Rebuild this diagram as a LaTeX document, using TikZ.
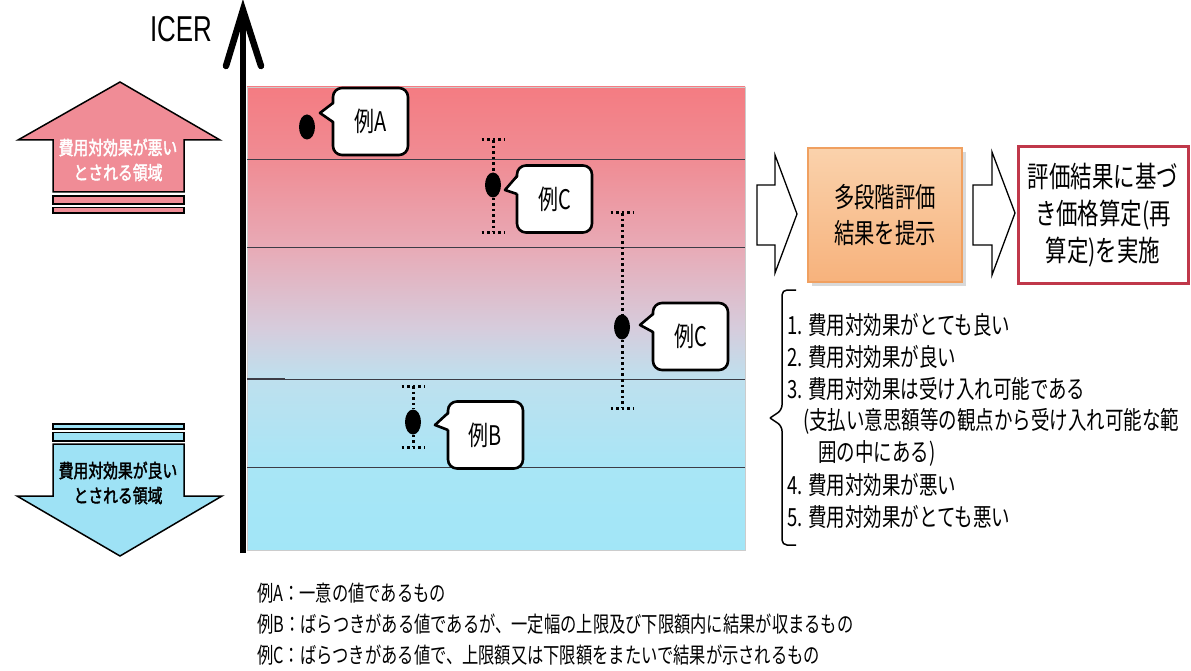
\documentclass[tikz,border=0pt]{standalone}
\usepackage{fontspec}
\newfontfamily\jp[FakeStretch=0.74]{Noto Sans CJK JP}
\newfontfamily\jpb[FakeStretch=0.78,FakeBold=2]{Noto Sans CJK JP}
\newfontfamily\latin[FakeStretch=0.72]{Liberation Sans}
\usetikzlibrary{shapes.geometric}
\definecolor{uppink}{RGB}{240,140,150}
\definecolor{downcyan}{RGB}{158,226,245}
\definecolor{orfill1}{RGB}{250,210,172}
\definecolor{orfill2}{RGB}{247,178,124}
\definecolor{orline}{RGB}{240,160,96}
\definecolor{redline}{RGB}{192,56,74}
\definecolor{gridline}{RGB}{60,60,70}
\pgfdeclareverticalshading{chartshade}{100bp}{%
  rgb(0bp)=(0.635,0.902,0.969);
  rgb(25bp)=(0.635,0.902,0.969);
  rgb(34bp)=(0.66,0.90,0.965);
  rgb(43.5bp)=(0.745,0.878,0.933);
  rgb(49bp)=(0.84,0.80,0.863);
  rgb(57.7bp)=(0.91,0.667,0.714);
  rgb(67bp)=(0.94,0.55,0.58);
  rgb(75bp)=(0.957,0.486,0.51);
  rgb(100bp)=(0.957,0.486,0.51)}
\tikzset{
  callbox/.style={draw, line width=2.6pt, rounded corners=9pt, fill=white,
    minimum width=75pt, minimum height=67pt, inner sep=0pt,
    font=\jp\fontsize{27}{30}\selectfont},
  ptr/.style={draw, line width=2.6pt, line join=round},
  dotn/.style={ellipse, fill=black, minimum width=16pt, minimum height=25pt, inner sep=0pt},
  errbar/.style={line width=3pt, dash pattern=on 2.6pt off 3pt},
  gridl/.style={draw=gridline, line width=0.8pt},
  blockarrow/.style={draw, fill=white, line width=1.3pt, line join=miter},
  listtxt/.style={anchor=west, inner sep=0pt, font=\jp\fontsize{25}{28}\selectfont},
  bottxt/.style={anchor=west, inner sep=0pt, font=\jp\fontsize{22}{25}\selectfont},
}
\begin{document}
\begin{tikzpicture}[x=1pt,y=-1pt]
\useasboundingbox[fill=white] (0,0) rectangle (1191,671);

% chart background
\path[shading=chartshade, draw=black!20, line width=0.8pt] (247,87) rectangle (745,550);
\draw[gridl] (247,159) -- (745,159);
\draw[gridl] (247,247) -- (745,247);
\draw[gridl] (247,379) -- (745,379);
\draw[draw=gridline, line width=1.6pt] (247,379) -- (285,379);
\draw[gridl] (247,467) -- (745,467);

% axis
\coordinate (axtop) at (243,10);
\coordinate (axbot) at (243,553);
\draw[line width=6pt] (axbot) -- (axtop);
\draw[line width=6.5pt, line cap=round, line join=miter] (226,66) -- (axtop) -- (261,66);
\node[font=\latin\fontsize{36}{40}\selectfont, inner sep=0pt] (icer) at (181,29) {ICER};

% left arrows
\draw[fill=uppink, line width=1.5pt] (120,82) -- (220,140) -- (184,140) -- (184,192) -- (53,192) -- (53,140) -- (18,140) -- cycle;
\draw[fill=uppink, line width=1.5pt] (53,196) rectangle (184,204);
\draw[fill=uppink, line width=1.5pt] (53,207.5) rectangle (184,213);
\node[font=\jpb\fontsize{19}{25}\selectfont, text=white, align=center, inner sep=0pt] (uptxt) at (118,160) {費用対効果が悪い\\とされる領域};

\draw[fill=downcyan, line width=1.5pt] (53,424) rectangle (184,429);
\draw[fill=downcyan, line width=1.5pt] (53,432.5) rectangle (184,441);
\draw[fill=downcyan, line width=1.5pt] (53,444) -- (184,444) -- (184,496) -- (222,496) -- (120,556) -- (17,496) -- (53,496) -- cycle;
\node[font=\jpb\fontsize{19}{25}\selectfont, text=black, align=center, inner sep=0pt] (dntxt) at (118,483) {費用対効果が良い\\とされる領域};

% points and error bars
\node[dotn] (dA) at (307,127) {};
\node[dotn] (dC1) at (493,185) {};
\node[dotn] (dC2) at (622,327) {};
\node[dotn] (dB) at (413,422) {};

\coordinate (c1t) at (493,140); \coordinate (c1b) at (493,232);
\coordinate (c2t) at (622,213); \coordinate (c2b) at (622,408);
\coordinate (bt) at (413,386); \coordinate (bb) at (413,447);
\foreach \t/\d/\b in {c1t/dC1/c1b, c2t/dC2/c2b, bt/dB/bb}{
  \draw[errbar] (\t) -- (\d);
  \draw[errbar] (\d) -- (\b);
  \draw[errbar] ([xshift=-11.5pt]\t) -- ([xshift=11.5pt]\t);
  \draw[errbar] ([xshift=-11.5pt]\b) -- ([xshift=11.5pt]\b);
}

% callouts
\node[callbox] (cA) at (370.5,121.5) {例A};
\coordinate (tA) at (320,113);
\fill[white] (335.5,103) -- (tA) -- (335.5,122) -- cycle;
\draw[ptr] (333,103) -- (tA) -- (333,122);

\node[callbox] (cC1) at (554.5,199) {例C};
\coordinate (tC1) at (505,190);
\fill[white] (519.5,176) -- (tC1) -- (519.5,194) -- cycle;
\draw[ptr] (517,176) -- (tC1) -- (517,194);

\node[callbox] (cC2) at (690.5,336.5) {例C};
\coordinate (tC2) at (640,325);
\fill[white] (655.5,314) -- (tC2) -- (655.5,332) -- cycle;
\draw[ptr] (653,314) -- (tC2) -- (653,332);

\node[callbox] (cB) at (485.5,435) {例B};
\coordinate (tB) at (435,425);
\fill[white] (450.5,413) -- (tB) -- (450.5,430) -- cycle;
\draw[ptr] (448,413) -- (tB) -- (448,430);

% right flow
\draw[blockarrow] (757,185) -- (775,185) -- (775,155) -- (797,214) -- (775,273) -- (775,245) -- (757,245) -- cycle;
\fill[black!15] (812,152) rectangle (966,286);
\node[draw=orline, line width=1.2pt, top color=orfill1, bottom color=orfill2,
  minimum width=154pt, minimum height=134pt, inner sep=0pt, align=center,
  font=\jp\fontsize{27.5}{36}\selectfont] (ob) at (885,215) {多段階評価\\結果を提示};
\draw[blockarrow] (973,185) -- (992,185) -- (992,152) -- (1015,213) -- (992,275) -- (992,245) -- (973,245) -- cycle;
\node[draw=redline, line width=3pt, fill=white, minimum width=170pt, minimum height=136pt,
  inner sep=0pt, align=center, font=\jp\fontsize{29}{37}\selectfont] (rb) at (1103,215)
  {評価結果に基づ\\き価格算定(再\\算定)を実施};

% bracket
\draw[line width=1.5pt, rounded corners=5pt] (796,290) -- (782,290) -- (782,410) -- (770,418) ;
\draw[line width=1.5pt, rounded corners=5pt] (770,418) -- (782,426) -- (782,545) -- (796,545);

\node[listtxt] (l1) at (787,325) {1. 費用対効果がとても良い};
\node[listtxt] (l2) at (787,357) {2. 費用対効果が良い};
\node[listtxt] (l3) at (787,389) {3. 費用対効果は受け入れ可能である};
\node[listtxt] (l4) at (803,421) {(支払い意思額等の観点から受け入れ可能な範};
\node[listtxt] (l5) at (818,453) {囲の中にある)};
\node[listtxt] (l6) at (787,485) {4. 費用対効果が悪い};
\node[listtxt] (l7) at (787,517) {5. 費用対効果がとても悪い};

% bottom notes
\node[bottxt] (nA) at (257,593) {例A：一意の値であるもの};
\node[bottxt] (nB) at (257,624) {例B：ばらつきがある値であるが、一定幅の上限及び下限額内に結果が収まるもの};
\node[bottxt] (nC) at (257,655) {例C：ばらつきがある値で、上限額又は下限額をまたいで結果が示されるもの};
\end{tikzpicture}
\end{document}
